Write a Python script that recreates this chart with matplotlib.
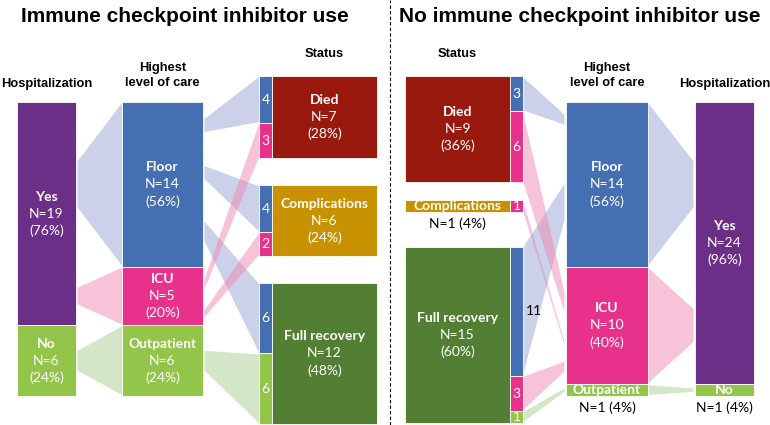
import matplotlib.pyplot as plt


# data: 25 patients per group
hosp_levels = ["Yes", "No"]
care_levels = ["Floor", "ICU", "Outpatient"]
statuses = ["Died", "Complications", "Full recovery"]

# rows = hospitalization, cols = highest level of care
ici_hosp_care = [[14, 5, 0], [0, 0, 6]]
noici_hosp_care = [[14, 10, 0], [0, 0, 1]]

# rows = highest level of care, cols = status
ici_care_status = [[4, 4, 6], [3, 2, 0], [0, 0, 6]]
noici_care_status = [[3, 0, 11], [6, 1, 3], [0, 0, 1]]


# styling
HOSP_COLORS = ["#6b2f87", "#93c54b"]
CARE_COLORS = ["#4470b3", "#e8318a", "#93c54b"]
STATUS_COLORS = ["#99190f", "#c79100", "#527f33"]
RIBBON_COLORS = ["#9aa5d6", "#ef88b2", "#a8d092"]

UNIT = 11.76   # pixels per patient
TAPER = 0.28   # narrow end of a ribbon relative to its wide end
HEAD_FONT = "Liberation Sans"
BOX_FONT = "Lato"

LEFT = dict(hosp_x=(17, 76), care_x=(122, 203), stub_x=(259, 272), box_x=(272, 377),
            top=102, status_top=76, gaps=[27, 27])
RIGHT = dict(hosp_x=(695, 754), care_x=(566, 648), stub_x=(510, 523), box_x=(405, 510),
             top=102, status_top=76, gaps=[18, 35])


def facing_edges(a, b):
    """edges of column a and column b that face each other"""
    if a[0] < b[0]:
        return a[1], b[0]
    return a[0], b[1]


def draw_ribbon(ax, x_narrow, narrow, x_wide, wide, color):
    inset = 1.5 if x_wide > x_narrow else -1.5
    c = (narrow[0] + narrow[1]) / 2
    half = (wide[1] - wide[0]) * TAPER / 2
    xs = [x_narrow + inset, x_wide, x_wide, x_narrow + inset]
    ys = [c - half, wide[0] + 1, wide[1] - 1, c + half]
    ax.fill(xs, ys, color=color, alpha=0.5, lw=0, zorder=1)


def bar(ax, x, y0, y1, color):
    ax.bar((x[0] + x[1]) / 2, y1 - y0, width=x[1] - x[0], bottom=y0,
           color=color, edgecolor="white", linewidth=0.6, zorder=2)


def box_label(ax, x, y0, y1, name, n, total):
    xc = (x[0] + x[1]) / 2
    yc = (y0 + y1) / 2
    pct = round(100 * n / total)
    kw = dict(ha="center", va="center", family=BOX_FONT, fontsize=10, zorder=3)
    if y1 - y0 > 30:
        ax.text(xc, yc - 17, name, color="white", fontweight="bold", **kw)
        ax.text(xc, yc, f"N={n}", color="white", **kw)
        ax.text(xc, yc + 17, f"({pct}%)", color="white", **kw)
    else:
        ax.text(xc, yc, name, color="white", fontweight="bold", **kw)
        ax.text(xc, y1 + 12, f"N={n} ({pct}%)", color="black", **kw)


def draw_panel(ax, lay, hosp_care, care_status):
    hosp_n = [sum(r) for r in hosp_care]
    care_n = [sum(r) for r in care_status]
    status_n = [sum(care_status[c][s] for c in range(3)) for s in range(3)]
    total = sum(hosp_n)

    # vertical extents of each node
    hosp_y, y = [], lay["top"]
    for n in hosp_n:
        hosp_y.append((y, y + n * UNIT))
        y += n * UNIT
    care_y, y = [], lay["top"]
    for n in care_n:
        care_y.append((y, y + n * UNIT))
        y += n * UNIT
    status_y, y = [], lay["status_top"]
    for s, n in enumerate(status_n):
        status_y.append((y, y + n * UNIT))
        y += n * UNIT + (lay["gaps"][s] if s < 2 else 0)

    # hospitalization -> care ribbons
    xh, xc = facing_edges(lay["hosp_x"], lay["care_x"])
    care_fill = [c[0] for c in care_y]
    for h in range(2):
        y = hosp_y[h][0]
        for c in range(3):
            n = hosp_care[h][c]
            if n == 0:
                continue
            src = (y, y + n * UNIT)
            dst = (care_fill[c], care_fill[c] + n * UNIT)
            draw_ribbon(ax, xh, src, xc, dst, RIBBON_COLORS[c])
            y += n * UNIT
            care_fill[c] += n * UNIT

    # care -> status ribbons and status stubs
    xc2, xs = facing_edges(lay["care_x"], lay["stub_x"])
    stub_fill = [s[0] for s in status_y]
    for c in range(3):
        y = care_y[c][0]
        for s in range(3):
            n = care_status[c][s]
            if n == 0:
                continue
            src = (y, y + n * UNIT)
            dst = (stub_fill[s], stub_fill[s] + n * UNIT)
            draw_ribbon(ax, xc2, src, xs, dst, RIBBON_COLORS[c])
            bar(ax, lay["stub_x"], dst[0], dst[1], CARE_COLORS[c])
            sx = (lay["stub_x"][0] + lay["stub_x"][1]) / 2
            if n >= 10:
                # too wide for the stub: put it beside, on the ribbon
                sx = xs + (11 if xs < xc2 else -11)
                col = "black"
            else:
                col = "white"
            ax.text(sx, (dst[0] + dst[1]) / 2, str(n), color=col, ha="center",
                    va="center", family=BOX_FONT, fontsize=10, zorder=3)
            y += n * UNIT
            stub_fill[s] += n * UNIT

    # nodes
    for h in range(2):
        bar(ax, lay["hosp_x"], *hosp_y[h], HOSP_COLORS[h])
        box_label(ax, lay["hosp_x"], *hosp_y[h], hosp_levels[h], hosp_n[h], total)
    for c in range(3):
        bar(ax, lay["care_x"], *care_y[c], CARE_COLORS[c])
        box_label(ax, lay["care_x"], *care_y[c], care_levels[c], care_n[c], total)
    for s in range(3):
        bar(ax, lay["box_x"], *status_y[s], STATUS_COLORS[s])
        box_label(ax, lay["box_x"], *status_y[s], statuses[s], status_n[s], total)

    # column headers
    hk = dict(ha="center", va="center", family=HEAD_FONT, fontsize=9.3, fontweight="bold")
    ax.text(sum(lay["hosp_x"]) / 2, 84, "Hospitalization", **hk)
    ax.text(sum(lay["care_x"]) / 2, 68, "Highest", **hk)
    ax.text(sum(lay["care_x"]) / 2, 83, "level of care", **hk)
    ax.text(sum(lay["box_x"]) / 2, 54, "Status", **hk)


fig = plt.figure(figsize=(7.7, 4.25), dpi=100)
ax = fig.add_axes([0, 0, 1, 1])
ax.set_xlim(0, 770)
ax.set_ylim(425, 0)
ax.axis("off")

draw_panel(ax, LEFT, ici_hosp_care, ici_care_status)
draw_panel(ax, RIGHT, noici_hosp_care, noici_care_status)

ax.axvline(390, color="black", lw=0.8, ls=(0, (3, 2)))
tk = dict(ha="center", va="center", family=HEAD_FONT, fontsize=15, fontweight="bold")
ax.text(185, 16, "Immune checkpoint inhibitor use", **tk)
ax.text(580, 16, "No immune checkpoint inhibitor use", **tk)

fig.savefig("out.png", dpi=100)
